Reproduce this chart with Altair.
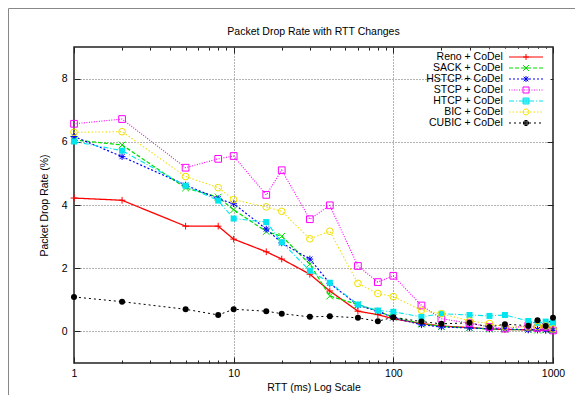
import altair as alt
import pandas as pd

# ---------------- data ----------------
rtt = [1, 2, 5, 8, 10, 16, 20, 30, 40, 60, 80, 100, 150, 200, 300, 400, 500, 700, 800, 900, 1000]
series = ["Reno + CoDel", "SACK + CoDel", "HSTCP + CoDel", "STCP + CoDel",
          "HTCP + CoDel", "BIC + CoDel", "CUBIC + CoDel"]
reno  = [4.22, 4.15, 3.33, 3.33, 2.92, 2.52, 2.29, 1.81, 1.28, 0.64, 0.53, 0.40, 0.25, 0.17, 0.12, 0.08, 0.06, 0.05, 0.04, 0.04, 0.02]
sack  = [6.06, 5.90, 4.54, 4.25, 3.85, 3.16, 3.01, 2.13, 1.12, 0.85, 0.64, 0.45, 0.24, 0.16, 0.11, 0.08, 0.06, 0.05, 0.04, 0.05, 0.03]
hstcp = [6.17, 5.53, 4.63, 4.20, 4.04, 3.24, 2.80, 2.29, 1.52, 0.83, 0.64, 0.43, 0.21, 0.14, 0.11, 0.08, 0.08, 0.05, 0.06, 0.04, 0.03]
stcp  = [6.57, 6.72, 5.18, 5.46, 5.55, 4.32, 5.10, 3.55, 3.99, 2.07, 1.56, 1.76, 0.82, 0.40, 0.26, 0.14, 0.09, 0.18, 0.11, 0.14, 0.03]
htcp  = [6.01, 5.72, 4.61, 4.14, 3.57, 3.46, 2.82, 1.92, 1.54, 0.85, 0.66, 0.62, 0.46, 0.56, 0.52, 0.49, 0.52, 0.33, 0.27, 0.31, 0.27]
bic   = [6.30, 6.32, 4.90, 4.55, 4.17, 3.94, 3.80, 2.93, 3.17, 1.52, 1.20, 1.10, 0.67, 0.56, 0.33, 0.25, 0.14, 0.14, 0.15, 0.17, 0.08]
cubic = [1.09, 0.94, 0.70, 0.52, 0.70, 0.64, 0.56, 0.46, 0.48, 0.43, 0.32, 0.45, 0.31, 0.24, 0.27, 0.14, 0.23, 0.18, 0.35, 0.17, 0.43]
values = [reno, sack, hstcp, stcp, htcp, bic, cubic]

x_major = [1, 10, 100, 1000]
x_minor = [2, 3, 4, 5, 6, 7, 8, 9, 20, 30, 40, 50, 60, 70, 80, 90,
           200, 300, 400, 500, 600, 700, 800, 900]
x_grid = [10, 100]
y_ticks = [0, 2, 4, 6, 8]

# ---------------- styles ----------------
colors = ["#ff0000", "#00dd00", "#0000ff", "#ff00ff", "#00e5ee", "#f0e000", "#000000"]
dashes = [[1, 0], [4, 2], [2, 2], [1, 1.5], [5, 2, 1, 2], [1.5, 2], [2, 3]]
widths = [1.3, 1, 1, 1.2, 1, 1, 1]

PLUS = "M-1,0L1,0M0,-1L0,1"
XM = "M-1,-1L1,1M-1,1L1,-1"
STAR = PLUS + "M-0.75,-0.75L0.75,0.75M-0.75,0.75L0.75,-0.75"
OSQ = "M-1,-1L1,-1L1,1L-1,1Z"
shapes = [PLUS, XM, STAR, OSQ, "square", "circle", "circle"]
filled = [False, False, False, False, True, False, True]
sizes = [45, 45, 45, 45, 36, 45, 36]

# legend symbols: dashed line sample with marker in a 34 px box (17 px per path unit)
U = 17.0


def pt(x, y):
    return f"{x / U:.4f},{y / U:.4f}"


def line_path(d):
    x0, x1 = -17.0, 17.0
    if d[1] == 0:
        return f"M{pt(x0, 0)}L{pt(x1, 0)}"
    out, x, i = [], x0, 0
    while x < x1 - 0.01:
        on, off = d[i % len(d)], d[(i + 1) % len(d)]
        b = min(x + on, x1)
        out.append(f"M{pt(x, 0)}L{pt(b, 0)}")
        x = b + off
        i += 2
    return "".join(out)


r = 3.0


def circ(rr):
    a = f"{rr / U:.4f}"
    return (f"M{pt(-rr, 0)}A{a},{a} 0 1 0 {pt(rr, 0)}"
            f"A{a},{a} 0 1 0 {pt(-rr, 0)}Z")


m_plus = f"M{pt(-r, 0)}L{pt(r, 0)}M{pt(0, -r)}L{pt(0, r)}"
m_x = f"M{pt(-r, -r)}L{pt(r, r)}M{pt(-r, r)}L{pt(r, -r)}"
m_star = m_plus + f"M{pt(-2.3, -2.3)}L{pt(2.3, 2.3)}M{pt(-2.3, 2.3)}L{pt(2.3, -2.3)}"
m_osq = f"M{pt(-r, -r)}L{pt(r, -r)}L{pt(r, r)}L{pt(-r, r)}Z"
m_fsq = m_osq + "".join(f"M{pt(-r, yy)}L{pt(r, yy)}" for yy in (-2, -1, 0, 1, 2))
m_oc = circ(3.0)
m_fc = circ(2.6) + circ(1.7) + circ(0.8)
markers = [m_plus, m_x, m_star, m_osq, m_fsq, m_oc, m_fc]
legend_shapes = [line_path(d) + m for d, m in zip(dashes, markers)]

# ---------------- table ----------------
rows = []
for s, vals in zip(series, values):
    for x, v in zip(rtt, vals):
        rows.append({"rtt": x, "rate": v, "series": s})
df = pd.DataFrame(rows)

xs = alt.Scale(type="log", domain=[1, 1000], nice=False)
ys = alt.Scale(domain=[-1, 9], nice=False, zero=False)
color_scale = alt.Scale(domain=series, range=colors)
col = alt.Color("series:N", scale=color_scale, legend=None)

FONT = "Liberation Sans"

grid_x = alt.Axis(grid=True, ticks=False, labels=False, domain=False, values=x_grid,
                  gridColor="#666", gridDash=[1, 2], gridWidth=1)
grid_y = alt.Axis(grid=True, ticks=False, labels=False, domain=False, values=y_ticks,
                  gridColor="#666", gridDash=[1, 2], gridWidth=1)

lines = alt.Chart(df).mark_line(clip=False).encode(
    x=alt.X("rtt:Q", scale=xs, axis=grid_x, title=None),
    y=alt.Y("rate:Q", scale=ys, axis=grid_y, title=None),
    color=col,
    strokeDash=alt.StrokeDash("series:N", scale=alt.Scale(domain=series, range=dashes), legend=None),
    strokeWidth=alt.StrokeWidth("series:N", scale=alt.Scale(domain=series, range=widths), legend=None),
)

# axes (inward ticks via negative offsets)
ax_bottom = alt.Axis(orient="bottom", values=x_major, format="d", offset=-6, tickSize=6,
                     grid=False, domain=False, labelPadding=5, titlePadding=4,
                     labelFlush=False)
ax_left = alt.Axis(orient="left", values=y_ticks, offset=-6, tickSize=6, grid=False,
                   domain=False, labelPadding=7, titlePadding=12)
ax_top = alt.Axis(orient="top", values=x_major, offset=-6, tickSize=6, grid=False,
                  domain=False, labels=False)
ax_right = alt.Axis(orient="right", values=y_ticks, offset=-6, tickSize=6, grid=False,
                    domain=False, labels=False)
ax_minor_b = alt.Axis(orient="bottom", values=x_minor, offset=-3, tickSize=3, grid=False,
                      domain=False, labels=False)
ax_minor_t = alt.Axis(orient="top", values=x_minor, offset=-3, tickSize=3, grid=False,
                      domain=False, labels=False)

axes_main = alt.Chart(df).mark_point(opacity=0, size=1).encode(
    x=alt.X("rtt:Q", scale=xs, axis=ax_bottom, title="RTT (ms) Log Scale"),
    y=alt.Y("rate:Q", scale=ys, axis=ax_left, title="Packet Drop Rate (%)"),
)
axes_mirror = alt.Chart(df).mark_point(opacity=0, size=1).encode(
    x=alt.X("rtt:Q", scale=xs, axis=ax_top, title=None),
    y=alt.Y("rate:Q", scale=ys, axis=ax_right, title=None),
)
minor_b = alt.Chart(df).mark_point(opacity=0, size=1).encode(
    x=alt.X("rtt:Q", scale=xs, axis=ax_minor_b, title=None),
    y=alt.Y("rate:Q", scale=ys, axis=None),
)
minor_t = alt.Chart(df).mark_point(opacity=0, size=1).encode(
    x=alt.X("rtt:Q", scale=xs, axis=ax_minor_t, title=None),
    y=alt.Y("rate:Q", scale=ys, axis=None),
)

# markers, one layer per series
point_layers = []
for s, shp, fl, sz in zip(series, shapes, filled, sizes):
    point_layers.append(
        alt.Chart(df).transform_filter(alt.datum.series == s).mark_point(
            shape=shp, filled=fl, size=sz, strokeWidth=1, opacity=1
        ).encode(
            x=alt.X("rtt:Q", scale=xs, axis=None),
            y=alt.Y("rate:Q", scale=ys, axis=None),
            color=col,
        )
    )

# legend B: coloured line samples with markers (labels empty)
leg_b = alt.Legend(title=None, orient="none", legendX=431.5, legendY=1.65,
                   symbolSize=1156, symbolStrokeWidth=1, labelExpr="''",
                   clipHeight=10.7, rowPadding=0, padding=3, fillColor="white",
                   labelFontSize=10.5)
legend_b = alt.Chart(df).transform_filter("false").mark_point(
    filled=False, strokeWidth=1, opacity=1
).encode(
    stroke=alt.Stroke("series:N", scale=alt.Scale(domain=series, range=colors), legend=leg_b),
    shape=alt.Shape("series:N", scale=alt.Scale(domain=series, range=legend_shapes), legend=leg_b),
)

# legend A: right-aligned labels (symbols hidden)
leg_a = alt.Legend(title=None, orient="none", legendX=415.3, legendY=1.65,
                   symbolOpacity=0, labelAlign="right", labelOffset=0,
                   clipHeight=10.7, rowPadding=0, padding=3, fillColor="white",
                   labelFont=FONT, labelFontSize=10.5, labelColor="#000", labelLimit=300)
legend_a = alt.Chart(df).mark_point(opacity=0).encode(
    size=alt.Size("series:N", sort=series, scale=alt.Scale(range=[1] * len(series)), legend=leg_a),
)

frame_df = pd.DataFrame({"k": [0]})
frame_top = alt.Chart(frame_df).mark_rule(color="#888", strokeWidth=1).encode(
    x=alt.value(-65.5), x2=alt.value(501), y=alt.value(-38.5))
frame_left = alt.Chart(frame_df).mark_rule(color="#888", strokeWidth=1).encode(
    x=alt.value(-65.5), y=alt.value(-38.5), y2=alt.value(348))

chart = alt.layer(
    lines, axes_main, axes_mirror, minor_b, minor_t, *point_layers,
    legend_b, legend_a, frame_top, frame_left
).resolve_axis(
    x="independent", y="independent"
).resolve_scale(
    shape="independent", stroke="independent"
).properties(
    width=479, height=316,
    padding={"left": 66, "top": 39, "right": 22, "bottom": 32},
    autosize=alt.AutoSizeParams(type="none"),
    title=alt.Title("Packet Drop Rate with RTT Changes", font=FONT, fontSize=10.5,
                    fontWeight="normal", color="#000", offset=-29),
).configure_view(
    stroke="#222", strokeWidth=1.5
).configure_axis(
    labelFont=FONT, labelFontSize=10.5, labelColor="#000",
    titleFont=FONT, titleFontSize=10.5, titleFontWeight="normal", titleColor="#000",
    tickColor="#222", tickWidth=1,
)

chart.save("out.html", embed_options={"renderer": "svg", "actions": False})
